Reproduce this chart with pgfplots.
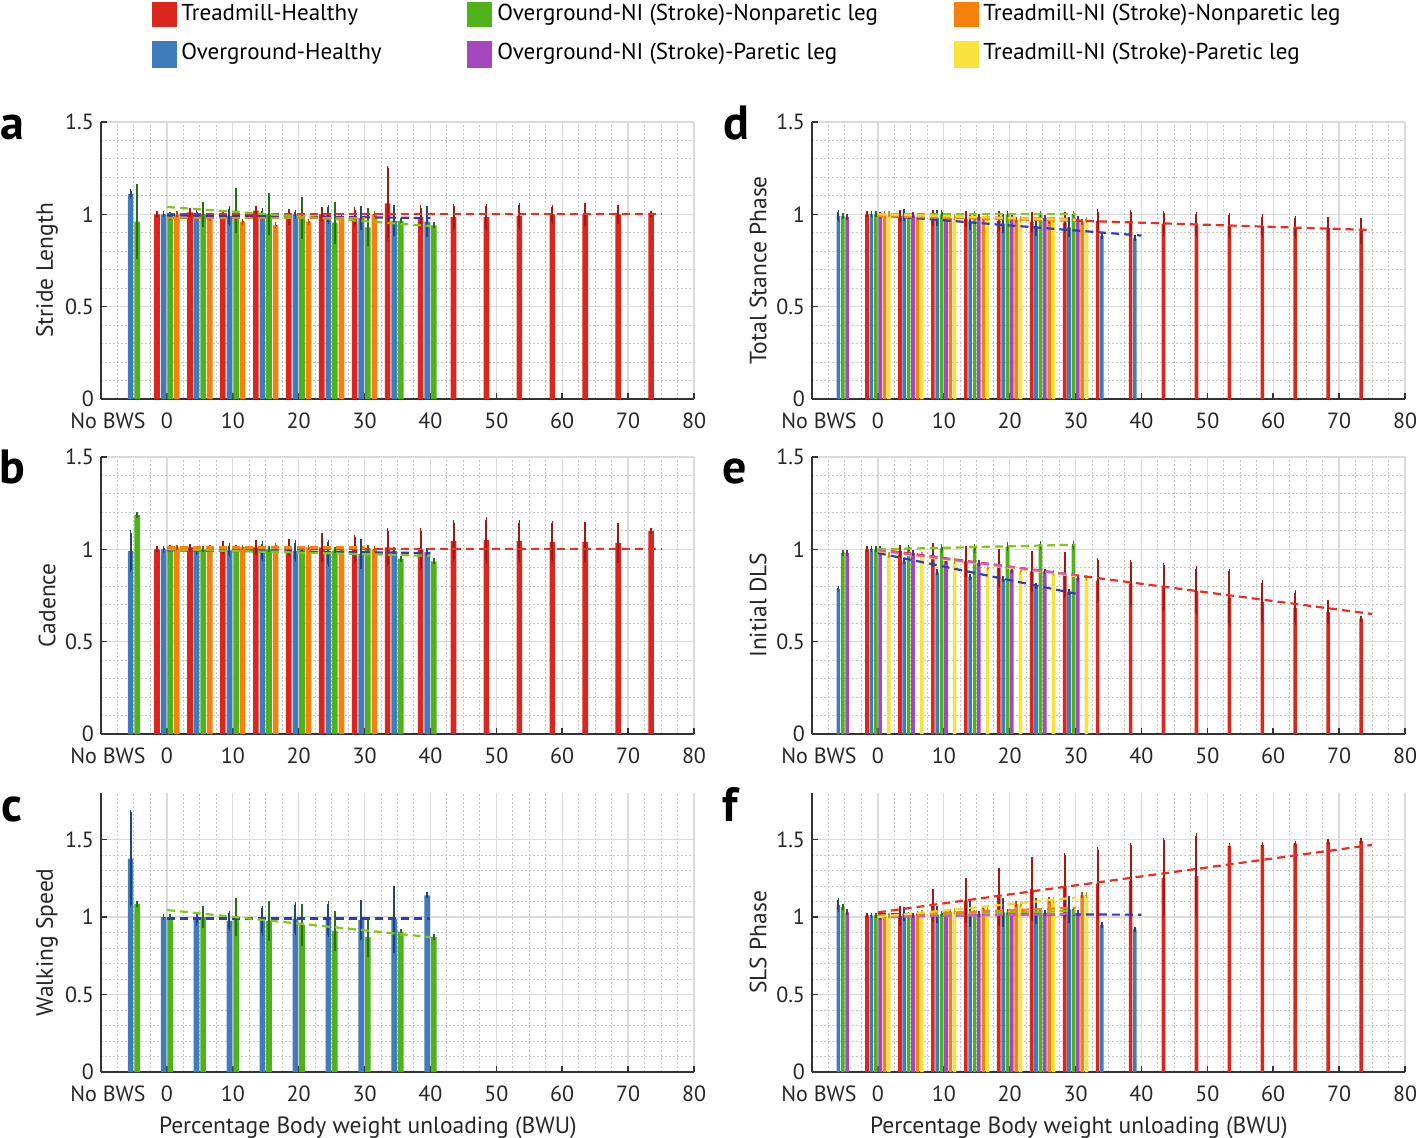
\documentclass[border=0pt]{standalone}
\usepackage{fontspec}
\setmainfont{PT Sans}
\usepackage{pgfplots}
\usepackage{pgfplotstable}
\pgfplotsset{compat=1.18}

\definecolor{cR}{RGB}{218,38,28}   \definecolor{dR}{RGB}{160,25,20}
\definecolor{cB}{RGB}{64,124,188}  \definecolor{dB}{RGB}{30,70,120}
\definecolor{cG}{RGB}{78,178,26}   \definecolor{dG}{RGB}{40,110,25}
\definecolor{cP}{RGB}{165,72,190}  \definecolor{dP}{RGB}{110,40,130}
\definecolor{cO}{RGB}{246,128,12}  \definecolor{dO}{RGB}{180,80,0}
\definecolor{cY}{RGB}{250,226,60}  \definecolor{dY}{RGB}{190,160,20}
\definecolor{tR}{RGB}{235,45,35}
\definecolor{tB}{RGB}{50,60,180}
\definecolor{tG}{RGB}{130,200,20}
\definecolor{tO}{RGB}{245,130,20}
\definecolor{tY}{RGB}{245,215,40}
\definecolor{tP}{RGB}{205,90,210}

% a: stride length
\pgfplotstableread{
x   R     Re     B     Be     G     Ge     O     Oe
-5  nan   nan    1.11  0.015  0.96  0.19   nan   nan
0   1.00  0.003  1.00  0.003  0.99  0.01   1.00  0.003
5   1.01  0.01   1.00  0.01   1.00  0.055  0.98  0.003
10  1.00  0.01   0.99  0.04   1.02  0.11   0.96  0.003
15  1.02  0.01   1.00  0.02   1.00  0.10   0.94  0.003
20  0.985 0.03   1.00  0.01   0.98  0.10   0.96  0.003
25  1.00  0.025  1.00  0.04   0.955 0.10   0.985 0.003
30  0.985 0.04   0.98  0.05   0.93  0.09   1.00  0.003
35  1.06  0.19   0.965 0.07   0.965 0.003  nan   nan
40  0.985 0.05   0.96  0.07   0.94  0.003  nan   nan
45  0.985 0.06   nan   nan    nan   nan    nan   nan
50  0.985 0.06   nan   nan    nan   nan    nan   nan
55  0.99  0.06   nan   nan    nan   nan    nan   nan
60  1.00  0.04   nan   nan    nan   nan    nan   nan
65  1.00  0.05   nan   nan    nan   nan    nan   nan
70  1.00  0.04   nan   nan    nan   nan    nan   nan
75  1.00  0.003  nan   nan    nan   nan    nan   nan
}\tA

% b: cadence
\pgfplotstableread{
x   R     Re     B     Be     G     Ge     O     Oe
-5  nan   nan    0.99  0.10   1.185 0.003  nan   nan
0   1.00  0.003  1.00  0.005  1.01  0.003  1.01  0.003
5   1.01  0.005  0.995 0.01   1.00  0.003  1.01  0.003
10  1.01  0.02   0.995 0.025  1.01  0.003  1.01  0.003
15  1.01  0.025  0.99  0.04   1.00  0.003  1.02  0.003
20  1.01  0.035  0.99  0.045  0.995 0.003  1.01  0.003
25  1.01  0.065  0.98  0.06   0.995 0.003  1.00  0.003
30  1.00  0.065  0.975 0.07   1.005 0.005  1.00  0.003
35  1.01  0.09   0.99  0.01   0.95  0.003  nan   nan
40  1.00  0.10   0.985 0.01   0.935 0.003  nan   nan
45  1.045 0.10   nan   nan    nan   nan    nan   nan
50  1.05  0.11   nan   nan    nan   nan    nan   nan
55  1.045 0.10   nan   nan    nan   nan    nan   nan
60  1.04  0.10   nan   nan    nan   nan    nan   nan
65  1.04  0.095  nan   nan    nan   nan    nan   nan
70  1.035 0.095  nan   nan    nan   nan    nan   nan
75  1.10  0.003  nan   nan    nan   nan    nan   nan
}\tB

% c: walking speed
\pgfplotstableread{
x   B     Be     G     Ge
-5  1.377 0.30   1.084 0.003
0   1.00  0.003  1.00  0.003
5   0.99  0.03   1.00  0.055
10  0.975 0.05   1.00  0.11
15  0.975 0.08   0.975 0.115
20  0.99  0.09   0.95  0.12
25  0.985 0.10   0.91  0.115
30  0.98  0.115  0.87  0.11
35  0.985 0.20   0.905 0.003
40  1.14  0.003  0.87  0.003
}\tC

% d: total stance phase
\pgfplotstableread{
x   R     Re     B     Be     G     Ge     P     Pe     O     Oe     Y     Ye
-5  nan   nan    0.99  0.02   0.99  0.003  0.985 0.003  nan   nan    nan   nan
0   1.00  0.003  1.00  0.003  1.00  0.003  0.995 0.003  1.00  0.003  1.00  0.003
5   0.99  0.02   0.995 0.02   0.99  0.003  0.995 0.003  0.985 0.003  0.99  0.003
10  0.98  0.03   0.98  0.03   1.00  0.01   0.99  0.003  0.98  0.003  0.985 0.003
15  0.975 0.03   0.96  0.03   1.00  0.003  0.985 0.003  0.975 0.003  0.98  0.003
20  0.965 0.04   0.95  0.04   1.00  0.003  0.98  0.003  0.97  0.003  0.975 0.003
25  0.96  0.04   0.935 0.04   1.00  0.003  0.98  0.003  0.965 0.003  0.97  0.003
30  0.955 0.045  0.93  0.04   1.00  0.003  0.975 0.003  0.96  0.003  0.97  0.003
35  0.965 0.05   0.885 0.003  nan   nan    nan   nan    nan   nan    nan   nan
40  0.96  0.05   0.87  0.003  nan   nan    nan   nan    nan   nan    nan   nan
45  0.95  0.055  nan   nan    nan   nan    nan   nan    nan   nan    nan   nan
50  0.945 0.055  nan   nan    nan   nan    nan   nan    nan   nan    nan   nan
55  0.94  0.055  nan   nan    nan   nan    nan   nan    nan   nan    nan   nan
60  0.937 0.05   nan   nan    nan   nan    nan   nan    nan   nan    nan   nan
65  0.93  0.05   nan   nan    nan   nan    nan   nan    nan   nan    nan   nan
70  0.925 0.05   nan   nan    nan   nan    nan   nan    nan   nan    nan   nan
75  0.91  0.055  nan   nan    nan   nan    nan   nan    nan   nan    nan   nan
}\tD

% e: initial DLS
\pgfplotstableread{
x   R     Re     B     Be     G     Ge     P     Pe     Y     Ye
-5  nan   nan    0.785 0.003  0.98  0.003  0.98  0.003  nan   nan
0   1.00  0.003  1.00  0.003  1.00  0.003  1.00  0.003  0.97  0.003
5   0.99  0.02   0.935 0.003  1.00  0.01   0.98  0.003  0.97  0.003
10  0.97  0.05   0.875 0.003  1.005 0.01   0.935 0.003  0.935 0.003
15  0.935 0.07   0.85  0.003  1.005 0.01   0.925 0.003  0.90  0.003
20  0.90  0.09   0.84  0.003  1.015 0.01   0.89  0.003  0.885 0.003
25  0.88  0.10   0.80  0.003  1.02  0.01   0.88  0.003  0.87  0.003
30  0.86  0.11   0.77  0.003  1.02  0.01   0.845 0.003  0.845 0.003
35  0.83  0.11   nan   nan    nan   nan    nan   nan    nan   nan
40  0.815 0.115  nan   nan    nan   nan    nan   nan    nan   nan
45  0.795 0.12   nan   nan    nan   nan    nan   nan    nan   nan
50  0.775 0.12   nan   nan    nan   nan    nan   nan    nan   nan
55  0.74  0.14   nan   nan    nan   nan    nan   nan    nan   nan
60  0.715 0.105  nan   nan    nan   nan    nan   nan    nan   nan
65  0.685 0.08   nan   nan    nan   nan    nan   nan    nan   nan
70  0.66  0.05   nan   nan    nan   nan    nan   nan    nan   nan
75  0.625 0.003  nan   nan    nan   nan    nan   nan    nan   nan
}\tE

% f: SLS phase
\pgfplotstableread{
x   R     Re     B     Be     G     Ge     P     Pe     O     Oe     Y     Ye
-5  nan   nan    1.078 0.03   1.063 0.003  1.03  0.003  nan   nan    nan   nan
0   1.01  0.003  1.01  0.003  1.01  0.003  1.00  0.003  1.01  0.003  1.01  0.003
5   1.005 0.05   1.02  0.03   1.015 0.003  1.01  0.003  1.02  0.003  1.025 0.003
10  1.075 0.09   1.015 0.04   1.02  0.003  1.02  0.003  1.035 0.003  1.037 0.003
15  1.105 0.13   1.02  0.07   1.025 0.003  1.02  0.003  1.055 0.003  1.05  0.003
20  1.13  0.17   1.03  0.08   1.03  0.003  1.025 0.003  1.085 0.003  1.08  0.003
25  1.18  0.19   1.04  0.07   1.04  0.003  1.025 0.003  1.11  0.003  1.11  0.003
30  1.20  0.20   1.05  0.07   1.048 0.003  1.027 0.003  1.14  0.003  1.14  0.003
35  1.215 0.22   0.95  0.003  nan   nan    nan   nan    nan   nan    nan   nan
40  1.235 0.23   0.92  0.003  nan   nan    nan   nan    nan   nan    nan   nan
45  1.251 0.245  nan   nan    nan   nan    nan   nan    nan   nan    nan   nan
50  1.264 0.26   nan   nan    nan   nan    nan   nan    nan   nan    nan   nan
55  1.457 0.003  nan   nan    nan   nan    nan   nan    nan   nan    nan   nan
60  1.463 0.003  nan   nan    nan   nan    nan   nan    nan   nan    nan   nan
65  1.474 0.003  nan   nan    nan   nan    nan   nan    nan   nan    nan   nan
70  1.485 0.003  nan   nan    nan   nan    nan   nan    nan   nan    nan   nan
75  1.49  0.003  nan   nan    nan   nan    nan   nan    nan   nan    nan   nan
}\tF

\pgfplotsset{
  panel/.style={
    scale only axis, width=296.5pt,
    xmin=-10, xmax=80, ymin=0,
    xtick={-10,0,10,20,30,40,50,60,70,80},
    xticklabels={\hspace{7pt}No BWS,0,10,20,30,40,50,60,70,80},
    ytick={0,0.5,1,1.5},
    minor x tick num=3, minor y tick num=4,
    grid=both,
    major grid style={black!14, line width=0.7pt},
    minor grid style={black!22, dash pattern=on 1pt off 1pt, line width=0.5pt},
    axis x line*=bottom, axis y line*=left,
    axis line style={-, black!80, line width=0.8pt},
    xtick pos=left, ytick pos=left,
    major tick length=3pt, minor tick length=0pt,
    tick style={black!80, line width=0.8pt},
    tick label style={font=\fontsize{11}{13}\selectfont, text=black!85},
    xticklabel style={yshift=-3.5pt},
    /pgf/number format/assume math mode=true,
    every axis y label/.style={at={(axis description cs:-0.091,0.465)}, rotate=90,
      anchor=center, font=\fontsize{11.75}{14}\selectfont, text=black!85},
    every axis x label/.style={at={(axis description cs:0.45,-0.2)},
      anchor=center, font=\fontsize{11.75}{14}\selectfont, text=black!85},
  },
}

% table, column, fill, error colour, offset from the group position
\newcommand{\bars}[5]{%
  \addplot[ybar, bar shift=0pt, fill=#3, draw=none, forget plot,
    error bars/.cd, y dir=both, y explicit,
    error bar style={#4, line width=1pt},
    error mark options={#4, mark size=1.2pt, line width=0.8pt}]
    table[x expr=\thisrow{x}+#5, y=#2, y error=#2e] {#1};}
% colour, x0, y0, x1, y1
\newcommand{\trend}[5]{%
  \addplot[#1, dash pattern=on 4pt off 2.5pt, line width=1.1pt, forget plot]
    coordinates {(#2,#3)(#4,#5)};}

\begin{document}
\begin{tikzpicture}
\path[use as bounding box] (0,0) rectangle (708pt,-569pt);

% legend
\begin{scope}[every node/.style={anchor=west, inner sep=0pt, font=\fontsize{11.5}{13}\selectfont}]
\fill[cR] (76pt,-1pt) rectangle (88.5pt,-13.5pt);   \node at (90.5pt,-7.5pt) {Treadmill-Healthy};
\fill[cB] (76pt,-20.5pt) rectangle (88.5pt,-34pt);  \node at (90.5pt,-27pt) {Overground-Healthy};
\fill[cG] (233.5pt,-1pt) rectangle (246pt,-13.5pt); \node at (248.5pt,-7.5pt) {Overground-NI (Stroke)-Nonparetic leg};
\fill[cP] (233.5pt,-20.5pt) rectangle (246pt,-34pt);\node at (248.5pt,-27pt) {Overground-NI (Stroke)-Paretic leg};
\fill[cO] (477pt,-1pt) rectangle (489.5pt,-13.5pt); \node at (491.5pt,-7.5pt) {Treadmill-NI (Stroke)-Nonparetic leg};
\fill[cY] (477pt,-20.5pt) rectangle (489.5pt,-34pt);\node at (491.5pt,-27pt) {Treadmill-NI (Stroke)-Paretic leg};
\end{scope}

% panel letters
\begin{scope}[every node/.style={anchor=base, inner sep=0pt, font=\fontsize{24}{26}\selectfont\bfseries}]
\node at (6pt,-70pt) {a};
\node at (6pt,-241.5pt) {b};
\node at (6pt,-410.5pt) {c};
\node at (368pt,-70pt) {d};
\node at (367.5pt,-241.5pt) {e};
\node at (365pt,-410.5pt) {f};
\end{scope}

% a
\begin{axis}[panel, at={(50.5pt,-199.5pt)}, anchor=south west, height=138.5pt,
  ymax=1.5, bar width=0.85, ylabel={Stride Length}]
\bars{\tA}{R}{cR}{dR}{-1.5}
\bars{\tA}{B}{cB}{dB}{-0.5}
\bars{\tA}{G}{cG}{dG}{0.5}
\bars{\tA}{O}{cO}{dO}{1.5}
\trend{tR}{0}{1.0}{75}{1.0}
\trend{tB}{0}{0.995}{40}{0.98}
\trend{tG}{0}{1.04}{40}{0.937}
\trend{tO}{0}{0.98}{30}{0.98}
\end{axis}

% b
\begin{axis}[panel, at={(50.5pt,-367pt)}, anchor=south west, height=138.5pt,
  ymax=1.5, bar width=0.85, ylabel={Cadence}]
\bars{\tB}{R}{cR}{dR}{-1.5}
\bars{\tB}{B}{cB}{dB}{-0.5}
\bars{\tB}{G}{cG}{dG}{0.5}
\bars{\tB}{O}{cO}{dO}{1.5}
\trend{tR}{0}{1.0}{75}{1.0}
\trend{tB}{0}{0.995}{40}{0.98}
\trend{tG}{0}{1.0}{40}{0.965}
\trend{tO}{0}{1.01}{30}{1.01}
\end{axis}

% c
\begin{axis}[panel, at={(50.5pt,-536pt)}, anchor=south west, height=139.5pt,
  ymax=1.8, bar width=0.85, ylabel={Walking Speed},
  xlabel={Percentage Body weight unloading (BWU)}]
\bars{\tC}{B}{cB}{dB}{-0.5}
\bars{\tC}{G}{cG}{dG}{0.5}
\trend{tB}{0}{0.99}{40}{0.99}
\trend{tG}{0}{1.045}{40}{0.87}
\end{axis}

% d
\begin{axis}[panel, at={(406pt,-199.5pt)}, anchor=south west, height=138.5pt,
  ymax=1.5, bar width=0.55, ylabel={Total Stance Phase}]
\bars{\tD}{R}{cR}{dR}{-1.65}
\bars{\tD}{B}{cB}{dB}{-1.0}
\bars{\tD}{G}{cG}{dG}{-0.33}
\bars{\tD}{P}{cP}{dP}{0.33}
\bars{\tD}{O}{cO}{dO}{1.0}
\bars{\tD}{Y}{cY}{dY}{1.65}
\trend{tR}{0}{1.0}{75}{0.915}
\trend{tB}{0}{0.995}{40}{0.885}
\trend{tG}{0}{1.0}{30}{1.0}
\trend{tP}{0}{0.995}{30}{0.975}
\trend{tO}{0}{0.99}{30}{0.965}
\trend{tY}{0}{1.0}{30}{0.97}
\end{axis}

% e
\begin{axis}[panel, at={(406pt,-367pt)}, anchor=south west, height=138.5pt,
  ymax=1.5, bar width=0.55, ylabel={Initial DLS}]
\bars{\tE}{R}{cR}{dR}{-1.65}
\bars{\tE}{B}{cB}{dB}{-1.0}
\bars{\tE}{G}{cG}{dG}{-0.33}
\bars{\tE}{P}{cP}{dP}{0.33}
\bars{\tE}{Y}{cY}{dY}{1.65}
\trend{tR}{0}{1.0}{75}{0.65}
\trend{tB}{0}{0.98}{30}{0.76}
\trend{tG}{0}{1.0}{30}{1.025}
\trend{tY}{0}{0.99}{30}{0.855}
\trend{tP}{0}{0.995}{30}{0.86}
\end{axis}

% f
\begin{axis}[panel, at={(406pt,-536pt)}, anchor=south west, height=139.5pt,
  ymax=1.8, bar width=0.55, ylabel={SLS Phase},
  xlabel={Percentage Body weight unloading (BWU)}]
\bars{\tF}{R}{cR}{dR}{-1.65}
\bars{\tF}{B}{cB}{dB}{-1.0}
\bars{\tF}{G}{cG}{dG}{-0.33}
\bars{\tF}{P}{cP}{dP}{0.33}
\bars{\tF}{O}{cO}{dO}{1.0}
\bars{\tF}{Y}{cY}{dY}{1.65}
\trend{tR}{0}{1.03}{75}{1.465}
\trend{tB}{0}{1.02}{40}{1.015}
\trend{tG}{0}{1.005}{30}{1.04}
\trend{tP}{0}{1.0}{30}{1.02}
\trend{tO}{0}{1.01}{30}{1.06}
\trend{tY}{0}{1.0}{30}{1.125}
\end{axis}
\end{tikzpicture}
\end{document}
